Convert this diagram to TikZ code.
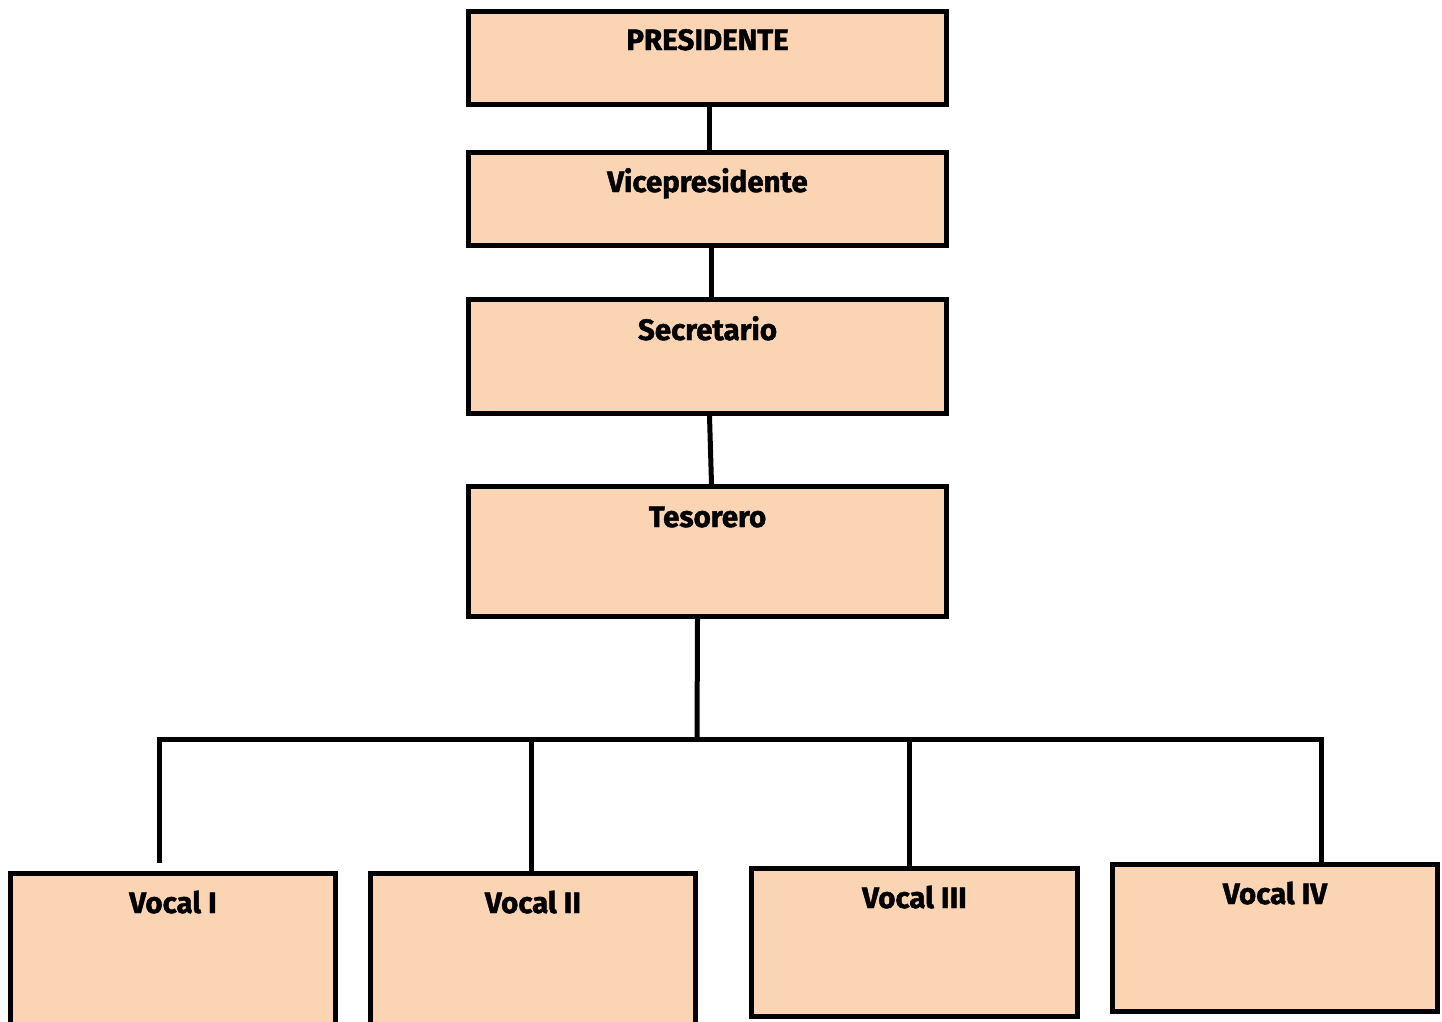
\documentclass[tikz,border=0pt]{standalone}
\usepackage{fontspec}
\setmainfont{Fira Sans}[BoldFeatures={FakeBold=1.5}]
\definecolor{boxfill}{HTML}{FBD4B4}
\begin{document}
\begin{tikzpicture}[x=1pt,y=-1pt,
  orgbox/.style={draw=black, fill=boxfill, line width=5pt, rectangle, anchor=north west, inner sep=0pt},
  lbl/.style={font=\fontsize{29.5}{33}\selectfont\bfseries, anchor=base, inner sep=0pt},
  conn/.style={draw=black, line width=5pt}]
\useasboundingbox (0,0) rectangle (1442,1021);
\fill[white] (0,0) rectangle (1442,1021);
\node[orgbox, minimum width=478pt, minimum height=93pt,
  label={[lbl, yshift=-41pt]north:PRESIDENTE}] (pres) at (466,9) {};
\node[orgbox, minimum width=478pt, minimum height=93pt,
  label={[lbl, yshift=-42pt]north:Vicepresidente}] (vice) at (466,150) {};
\node[orgbox, minimum width=478pt, minimum height=114pt,
  label={[lbl, yshift=-43pt]north:Secretario}] (sec) at (466,297) {};
\node[orgbox, minimum width=478pt, minimum height=130pt,
  label={[lbl, yshift=-43pt]north:Tesorero}] (tes) at (466,484) {};
\node[orgbox, minimum width=325pt, minimum height=200pt,
  label={[lbl, yshift=-42pt]north:Vocal I}] (v1) at (8,871) {};
\node[orgbox, minimum width=325pt, minimum height=200pt,
  label={[lbl, yshift=-42pt]north:Vocal II}] (v2) at (368,871) {};
\node[orgbox, minimum width=326pt, minimum height=148pt,
  label={[lbl, yshift=-42pt]north:Vocal III}] (v3) at (749,866) {};
\node[orgbox, minimum width=325pt, minimum height=147pt,
  label={[lbl, yshift=-42pt]north:Vocal IV}] (v4) at (1110,862) {};
% connectors
\coordinate (bus) at (697,739);
\coordinate (b1) at (159,739);
\coordinate (b2) at (531,739);
\coordinate (b3) at (909,739);
\coordinate (b4) at (1321,739);
\coordinate (d1) at (159,863);
\draw[conn] ([xshift=2pt]pres.south) -- ([xshift=2pt]vice.north);
\draw[conn] ([xshift=4pt,yshift=4pt]vice.south) -- ([xshift=4pt]sec.north);
\draw[conn] ([xshift=2pt]sec.south) -- ([xshift=4pt]tes.north);
\draw[conn] ([xshift=-10pt]tes.south) -- (bus);
\draw[conn, line join=miter] (d1) -- (b1) -- (b4) -- ([yshift=-4pt]b4 |- v4.north);
\draw[conn] (b2) -- (b2 |- v2.north);
\draw[conn] (b3) -- (b3 |- v3.north);
\end{tikzpicture}
\end{document}
